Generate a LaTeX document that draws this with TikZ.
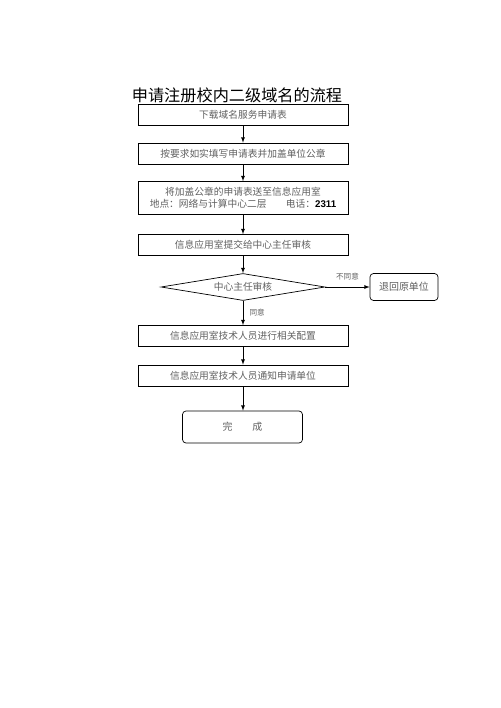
\documentclass[tikz,border=0pt]{standalone}
\usepackage{fontspec}
\usepackage{tikz}
\usetikzlibrary{shapes.geometric, arrows}
\setmainfont{Noto Sans CJK SC}
\newfontfamily\arial{Liberation Sans}
\tikzstyle{stepbox}   = [draw, rectangle, minimum width=6.3cm, minimum height=0.63cm, inner sep=1pt, font=\fontsize{8.3}{10}\selectfont, text=black!62, align=center]
\tikzstyle{endbox}    = [draw, rectangle, rounded corners=3pt, minimum height=0.81cm, font=\fontsize{8.5}{10}\selectfont, text=black!62]
\tikzstyle{decision}  = [draw, diamond, aspect=6, inner sep=0pt, minimum width=4.92cm, minimum height=0.81cm, font=\fontsize{8.3}{10}\selectfont, text=black!62]
\tikzstyle{answer}    = [font=\fontsize{6.5}{8}\selectfont, text=black!62]

\begin{document}
\begin{tikzpicture}[x=0.03cm, y=-0.03cm, line width=0.6pt]
  \useasboundingbox[fill=white] (0,0) rectangle (500,708);

  %title
  \node[font=\fontsize{13.8}{16}\selectfont] (title) at (237,95) {申请注册校内二级域名的流程};

  %put the steps in one column
  \node[stepbox] (b1) at (243,115) {下载域名服务申请表};
  \node[stepbox] (b2) at (243,153.5) {按要求如实填写申请表并加盖单位公章};
  \node[stepbox, minimum height=0.99cm] (b3) at (243,198)
    {将加盖公章的申请表送至信息应用室\\地点：网络与计算中心二层\quad\quad 电话：{\arial\bfseries\color{black}2311}};
  \node[stepbox] (b4) at (243,245) {信息应用室提交给中心主任审核};
  \node[decision] (check) at (243,287) {\raisebox{-3pt}{中心主任审核}};
  \node[stepbox] (b5) at (243,336) {信息应用室技术人员进行相关配置};
  \node[stepbox] (b6) at (243,375.5) {信息应用室技术人员通知申请单位};
  \node[endbox, minimum width=3.6cm, minimum height=0.96cm] (done) at (242.5,427) {完\quad\quad 成};

  %the branch on the right
  \node[endbox, minimum width=2.04cm] (back) at (404,287) {退回原单位};

  \foreach \a/\b in {b1/b2, b2/b3, b3/b4, b4/check, b5/b6}{
    \draw[-latex] (\a) -- (\b);
  }
  \draw[-latex] (check) -- node[answer, right, xshift=2pt] {同意} (b5);
  \draw[-latex] (check) -- node[answer, above, yshift=2pt] {不同意} (back);
  \draw[-latex] (b6) -- (b6 |- done.north);
\end{tikzpicture}
\end{document}
